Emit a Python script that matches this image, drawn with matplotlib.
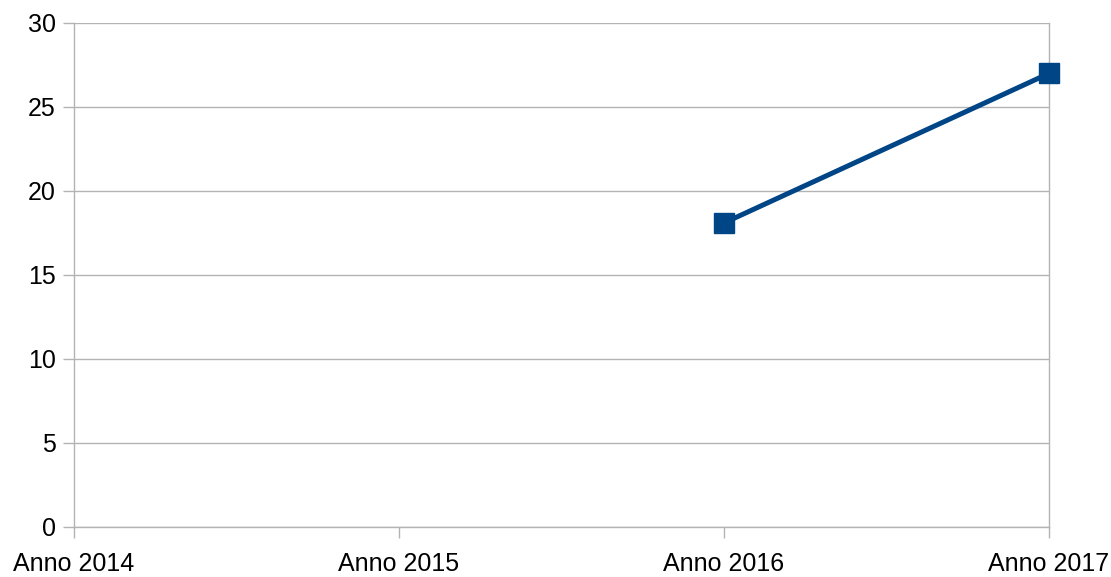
import matplotlib.pyplot as plt

plt.rcParams['font.family'] = ['Liberation Sans', 'DejaVu Sans']

anni = ["Anno 2014", "Anno 2015", "Anno 2016", "Anno 2017"]
valori = [None, None, 18.1, 27.0]

fig = plt.figure(figsize=(11.11, 5.77), dpi=100)
ax = fig.add_axes([74 / 1111, 50 / 577, 975 / 1111, 504 / 577])

x = list(range(len(anni)))
xs = [i for i, v in zip(x, valori) if v is not None]
ys = [v for v in valori if v is not None]
ax.plot(xs, ys, color="#004586", lw=3.6, marker="s", ms=14, zorder=3, clip_on=False)

ax.set_xlim(0, len(anni) - 1)
ax.set_ylim(0, 30)
ax.set_yticks(range(0, 31, 5))
ax.set_xticks(x)
ax.set_xticklabels(anni)

grid_c = "#b3b3b3"
ax.yaxis.grid(True, color=grid_c, lw=1)
ax.set_axisbelow(True)
for s in ["left", "bottom", "right"]:
    ax.spines[s].set_color(grid_c)
    ax.spines[s].set_linewidth(1)
ax.spines["top"].set_visible(False)

ax.tick_params(axis="both", labelsize=18, length=8, color=grid_c, width=1)
ax.tick_params(axis="y", pad=5)
ax.tick_params(axis="x", pad=10)

fig.savefig("out.png", dpi=100)
